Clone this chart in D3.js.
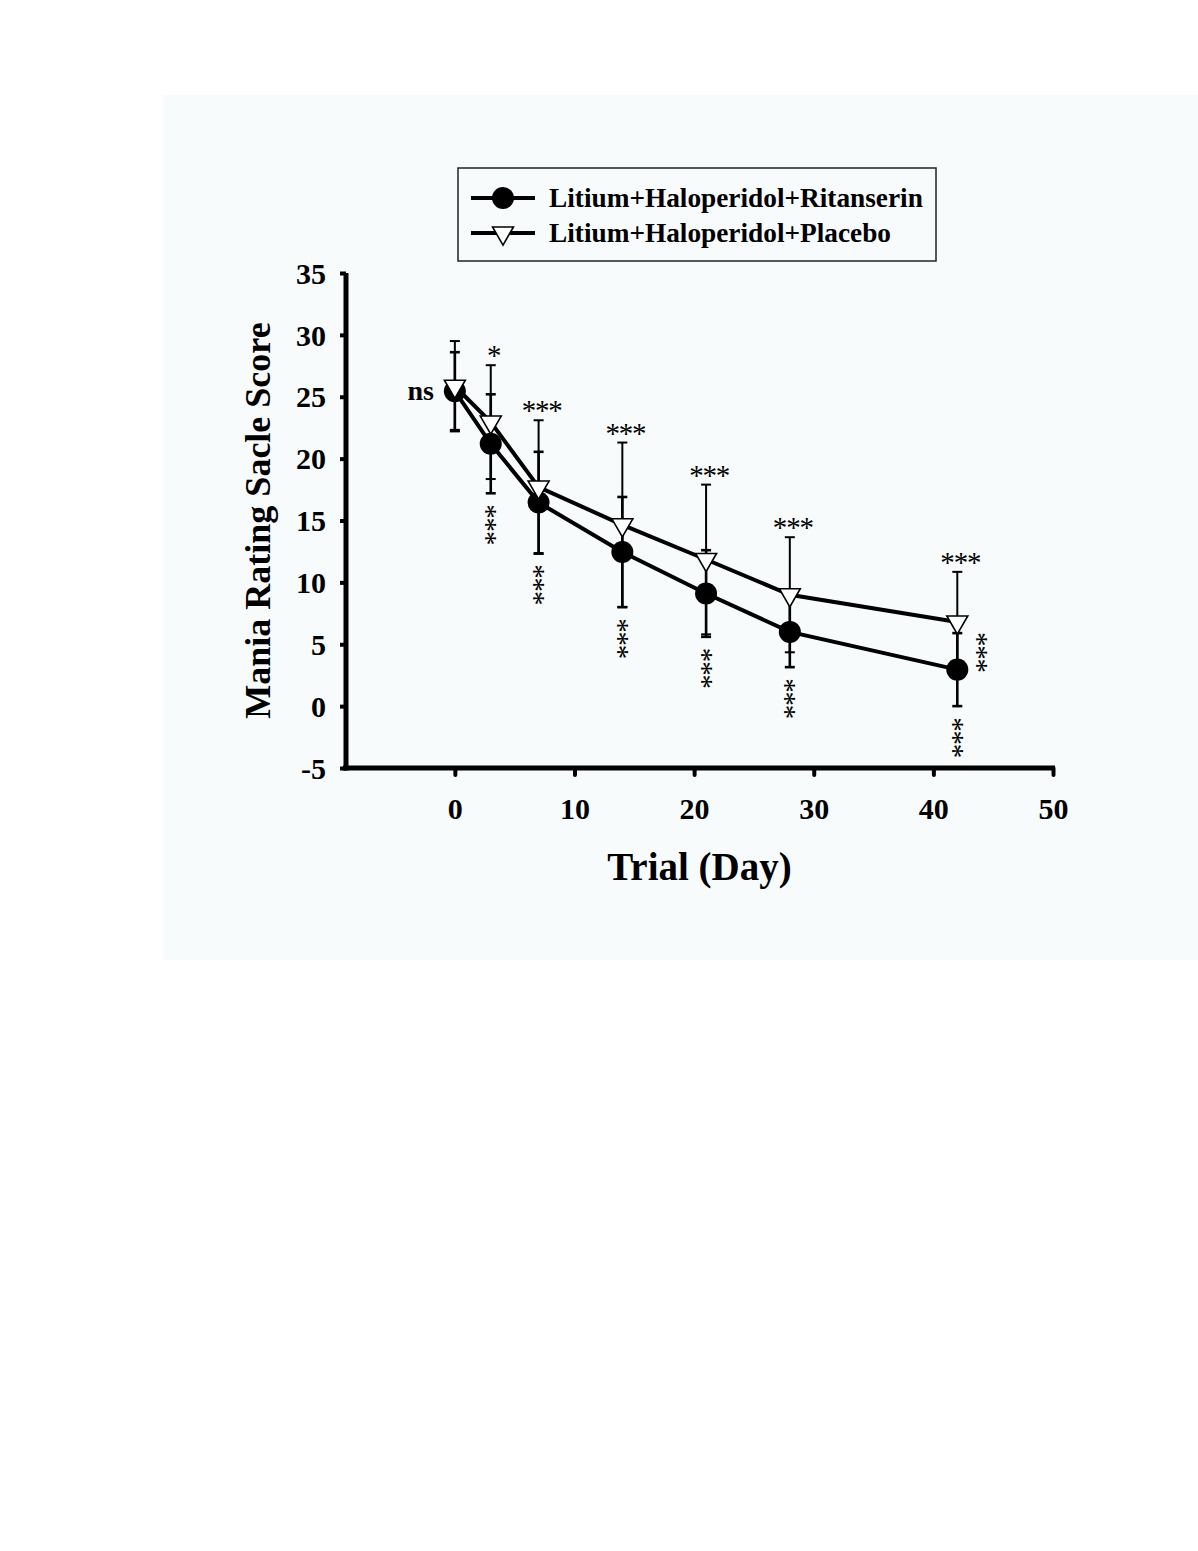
<!DOCTYPE html>
<html>
<head>
<meta charset="utf-8">
<script src="https://cdn.jsdelivr.net/npm/d3@7"></script>
<style>
  html, body { margin: 0; padding: 0; background: #ffffff; }
  svg { display: block; }
</style>
</head>
<body>
<svg id="chart" width="1198" height="1551"></svg>
<script>
// ---------- data ----------
const days = [0, 3, 7, 14, 21, 28, 42];
const ritanserinMean = [25.45, 21.2, 16.45, 12.45, 9.1, 6.0, 2.95];
const ritanserinErr  = [3.15, 4.0, 4.1, 4.45, 3.5, 2.85, 2.95];
const placeboMean    = [25.85, 22.95, 17.7, 14.65, 11.85, 9.0, 6.8];
const placeboErr     = [3.65, 4.6, 5.4, 6.65, 6.05, 4.65, 4.05];
const sigPlacebo     = ["ns", "*", "***", "***", "***", "***", "***"];
const sigRitanserin  = ["", "***", "***", "***", "***", "***", "***"];
const sigBetween     = ["", "", "", "", "", "", "***"];
const xTicks = [0, 10, 20, 30, 40, 50];
const yTicks = [-5, 0, 5, 10, 15, 20, 25, 30, 35];
const seriesNames = ["Litium+Haloperidol+Ritanserin", "Litium+Haloperidol+Placebo"];
const xTitle = "Trial (Day)";
const yTitle = "Mania Rating Sacle Score";

// ---------- setup ----------
const svg = d3.select("#chart");
const serif = "'Liberation Serif', 'Times New Roman', serif";

svg.append("rect").attr("x", 163).attr("y", 95).attr("width", 1035).attr("height", 865)
  .attr("fill", "#f7fbfc");

const x = d3.scaleLinear().domain([-9.1, 50]).range([346, 1053]);
const y = d3.scaleLinear().domain([-5, 35]).range([768, 273]);

const rit = days.map((d, i) => ({ d, m: ritanserinMean[i], e: ritanserinErr[i] }));
const pla = days.map((d, i) => ({ d, m: placeboMean[i], e: placeboErr[i] }));

// ---------- axes ----------
const yAxis = d3.axisLeft(y).tickValues(yTicks).tickSize(6).tickPadding(14).tickFormat(d => String(d));
const gy = svg.append("g").attr("transform", `translate(${x(-9.1)},0)`).call(yAxis);
gy.select(".domain").attr("stroke", "#000").attr("stroke-width", 5)
  .attr("d", `M0,${y(35)}V${y(-5) + 2.5}`);
gy.selectAll(".tick line").attr("stroke", "#000").attr("stroke-width", 4);
gy.selectAll(".tick text").attr("font-family", serif).attr("font-weight", "bold")
  .attr("font-size", 30).attr("fill", "#000").attr("dy", "0.34em");

const xAxis = d3.axisBottom(x).tickValues(xTicks).tickSize(7).tickPadding(23).tickFormat(d => String(d));
const gx = svg.append("g").attr("transform", `translate(0,${y(-5)})`).call(xAxis);
gx.select(".domain").attr("stroke", "#000").attr("stroke-width", 5)
  .attr("d", `M${x(-9.1) - 3},0H${x(50) + 2}`);
gx.selectAll(".tick line").attr("stroke", "#000").attr("stroke-width", 4).attr("stroke-linecap", "round");
gx.selectAll(".tick text").attr("font-family", serif).attr("font-weight", "bold")
  .attr("font-size", 30).attr("fill", "#000");

svg.append("text").attr("x", (x(-9.1) + x(50)) / 2).attr("y", 880)
  .attr("text-anchor", "middle").attr("font-family", serif).attr("font-weight", "bold")
  .attr("font-size", 39).text(xTitle);

svg.append("text").attr("transform", `translate(270,${(y(35) + y(-5)) / 2}) rotate(-90)`)
  .attr("text-anchor", "middle").attr("font-family", serif).attr("font-weight", "bold")
  .attr("font-size", 36).text(yTitle);

// ---------- error bars ----------
function errorBars(data, w) {
  const g = svg.append("g").attr("stroke", "#000").attr("stroke-width", w);
  g.selectAll("line.v").data(data).join("line")
    .attr("x1", d => x(d.d)).attr("x2", d => x(d.d))
    .attr("y1", d => y(d.m + d.e)).attr("y2", d => y(d.m - d.e));
  g.selectAll("line.top").data(data).join("line")
    .attr("x1", d => x(d.d) - 5).attr("x2", d => x(d.d) + 5)
    .attr("y1", d => y(d.m + d.e)).attr("y2", d => y(d.m + d.e));
  g.selectAll("line.bot").data(data).join("line")
    .attr("x1", d => x(d.d) - 5).attr("x2", d => x(d.d) + 5)
    .attr("y1", d => y(d.m - d.e)).attr("y2", d => y(d.m - d.e));
}
errorBars(pla, 2);
errorBars(rit, 2.6);

// ---------- lines ----------
const line = d3.line().x(d => x(d.d)).y(d => y(d.m));
svg.append("path").datum(pla).attr("d", line).attr("fill", "none").attr("stroke", "#000").attr("stroke-width", 4);
svg.append("path").datum(rit).attr("d", line).attr("fill", "none").attr("stroke", "#000").attr("stroke-width", 4);

// ---------- markers ----------
const tri = d3.symbol().type(d3.symbolTriangle).size(190)();
svg.append("g").selectAll("circle").data(rit).join("circle")
  .attr("cx", d => x(d.d)).attr("cy", d => y(d.m)).attr("r", 11).attr("fill", "#000");
svg.append("g").selectAll("path").data(pla).join("path")
  .attr("d", tri).attr("transform", d => `translate(${x(d.d)},${y(d.m)}) rotate(180)`)
  .attr("fill", "#fff").attr("stroke", "#000").attr("stroke-width", 1.6);

// ---------- significance annotations ----------
const starSize = 29;
const starSpacing = -1.2;
const ann = svg.append("g").attr("font-family", serif).attr("fill", "#000");
pla.forEach((d, i) => {
  const s = sigPlacebo[i];
  if (!s) return;
  if (s === "ns") {
    ann.append("text").attr("x", x(d.d) - 21).attr("y", y(rit[i].m) + 9)
      .attr("text-anchor", "end").attr("font-weight", "bold").attr("font-size", 28).text(s);
  } else {
    ann.append("text").attr("x", x(d.d) + 3).attr("y", y(d.m + d.e) + 0)
      .attr("text-anchor", "middle").attr("font-size", starSize)
      .attr("letter-spacing", starSpacing).text(s);
  }
});
function verticalStars(str, cx, top) {
  ann.append("text")
    .attr("transform", `translate(${cx},${top}) rotate(90)`)
    .attr("x", 0).attr("y", starSize * 0.465)
    .attr("font-size", starSize).attr("letter-spacing", starSpacing).text(str);
}
rit.forEach((d, i) => {
  if (sigRitanserin[i]) verticalStars(sigRitanserin[i], x(d.d), y(d.m - d.e) + 11);
  if (sigBetween[i]) verticalStars(sigBetween[i], x(d.d) + 24, y(pla[i].m) + 10);
});

// ---------- legend ----------
const lg = svg.append("g");
lg.append("rect").attr("x", 458).attr("y", 168).attr("width", 478).attr("height", 93)
  .attr("fill", "none").attr("stroke", "#222").attr("stroke-width", 1.5);
[0, 1].forEach(k => {
  const cy = 198 + k * 35;
  lg.append("line").attr("x1", 471).attr("x2", 535).attr("y1", cy).attr("y2", cy)
    .attr("stroke", "#000").attr("stroke-width", 4);
  if (k === 0) {
    lg.append("circle").attr("cx", 503).attr("cy", cy).attr("r", 11).attr("fill", "#000");
  } else {
    lg.append("path").attr("d", tri).attr("transform", `translate(503,${cy}) rotate(180)`)
      .attr("fill", "#fff").attr("stroke", "#000").attr("stroke-width", 1.6);
  }
  lg.append("text").attr("x", 549).attr("y", cy + 9).attr("font-family", serif)
    .attr("font-weight", "bold").attr("font-size", 27.3).text(seriesNames[k]);
});
</script>
</body>
</html>
